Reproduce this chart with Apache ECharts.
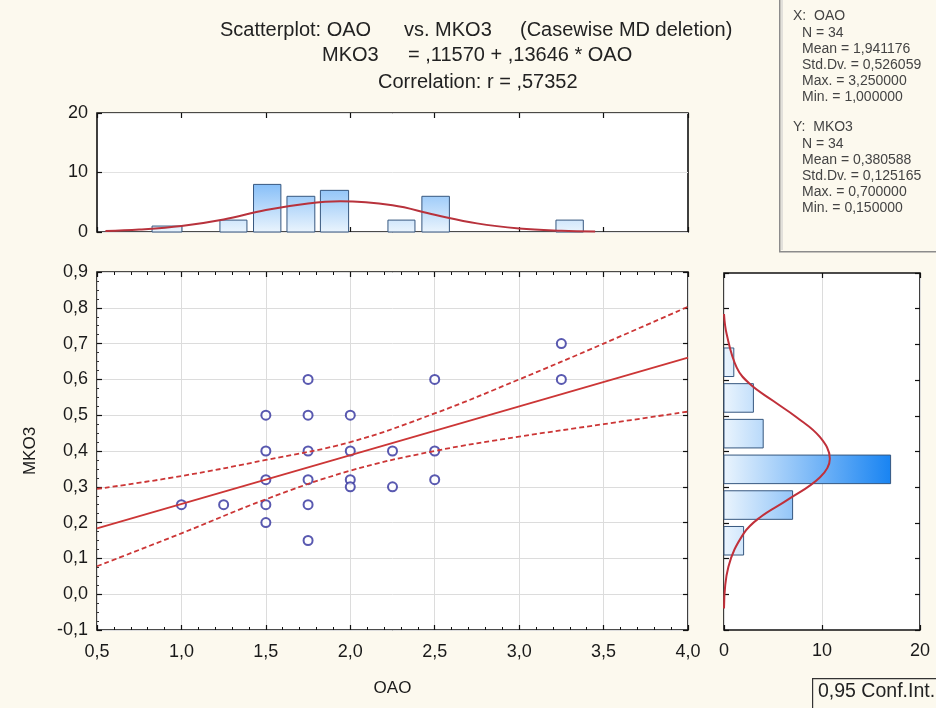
<!DOCTYPE html>
<html>
<head>
<meta charset="utf-8">
<script src="https://cdn.jsdelivr.net/npm/echarts@6/dist/echarts.min.js"></script>
<style>
  html, body { margin: 0; padding: 0; background: #fcf9ee; }
  #main { width: 936px; height: 708px; }
</style>
</head>
<body>
<div id="main"></div>
<script>
// scatter points (OAO, MKO3)
const points = [
  [1.0, 0.25], [1.25, 0.25],
  [1.5, 0.5], [1.5, 0.4], [1.5, 0.32], [1.5, 0.25], [1.5, 0.2],
  [1.75, 0.6], [1.75, 0.5], [1.75, 0.4], [1.75, 0.32], [1.75, 0.25], [1.75, 0.15],
  [2.0, 0.5], [2.0, 0.4], [2.0, 0.32], [2.0, 0.3],
  [2.25, 0.4], [2.25, 0.3],
  [2.5, 0.6], [2.5, 0.4], [2.5, 0.32],
  [3.25, 0.7], [3.25, 0.6]
];

// regression line ends
const fitLine = [[0.5, 0.184], [4.0, 0.661]];

// 0,95 confidence bands
const bandX = [0.5, 1.0, 1.5, 2.0, 2.5, 3.0, 3.5, 4.0];
const bandUpper = [0.294, 0.33, 0.375, 0.425, 0.505, 0.6, 0.70, 0.803];
const bandLower = [0.078, 0.17, 0.265, 0.345, 0.40, 0.44, 0.475, 0.51];

// top histogram (OAO): bin start, bin end, count
const oaoBinLo = [0.826, 1.228, 1.427, 1.625, 1.823, 2.223, 2.424, 3.218];
const oaoBinHi = [1.003, 1.388, 1.589, 1.790, 1.990, 2.383, 2.587, 3.380];
const oaoCount = [1, 2, 8, 6, 7, 2, 6, 2];
const oaoCurveX = [0.55, 0.75, 1.0, 1.25, 1.5, 1.75, 1.94, 2.25, 2.5, 2.75, 3.0, 3.25, 3.45];
const oaoCurveY = [0.15, 0.4, 1.0, 2.1, 3.7, 4.8, 5.15, 4.5, 2.9, 1.45, 0.6, 0.22, 0.1];

// right histogram (MKO3)
const mkoBinLo = [0.61, 0.51, 0.41, 0.31, 0.21, 0.11];
const mkoBinHi = [0.69, 0.59, 0.49, 0.39, 0.29, 0.19];
const mkoCount = [1, 3, 4, 17, 7, 2];
const mkoCurveY = [0.785, 0.729, 0.635, 0.589, 0.542, 0.496, 0.44, 0.38, 0.328, 0.263, 0.216, 0.17, 0.077, -0.04];
const mkoCurveX = [0, 0.27, 1.3, 2.65, 5.0, 7.4, 9.8, 10.8, 9.8, 6.4, 3.7, 2.0, 0.45, 0];

const statsX = ['N = 34', 'Mean = 1,941176', 'Std.Dv. = 0,526059', 'Max. = 3,250000', 'Min. = 1,000000'];
const statsY = ['N = 34', 'Mean = 0,380588', 'Std.Dv. = 0,125165', 'Max. = 0,700000', 'Min. = 0,150000'];

const FONT = 'Liberation Sans, Arial, sans-serif';
const RED = '#cc3636';
const barStops = [
  { offset: 0, color: '#eaf4fd' },
  { offset: 1, color: '#1984f2' }
];

let comma = (v, d) => v.toFixed(d).replace('.', ',').replace('-0,0', '0,0');

let chart = echarts.init(document.getElementById('main'));

let tickAxis = (extra) => Object.assign({
  type: 'value',
  axisLine: { show: false, onZero: false },
  axisTick: { show: true, inside: true, length: 5, lineStyle: { color: '#111', width: 1.2 } },
  axisLabel: { show: false },
  splitLine: { show: false }
}, extra);

let labelStyle = { color: '#1a1a1a', fontSize: 18, fontFamily: FONT };
let minor = { show: true, splitNumber: 5, length: 3, lineStyle: { color: '#111' } };

let renderTopBar = (params, api) => {
  let p0 = api.coord([api.value(0), api.value(2)]);
  let p1 = api.coord([api.value(1), 0]);
  let base = api.coord([1, 0])[1];
  let full = api.coord([1, 17])[1];
  return {
    type: 'rect',
    shape: { x: p0[0], y: p0[1], width: p1[0] - p0[0], height: p1[1] - p0[1] },
    style: {
      fill: new echarts.graphic.LinearGradient(0, base, 0, full, barStops, true),
      stroke: '#36577f', lineWidth: 1
    }
  };
};

let renderRightBar = (params, api) => {
  let p0 = api.coord([0, api.value(2)]);
  let p1 = api.coord([api.value(0), api.value(1)]);
  let base = api.coord([0, 0.3])[0];
  let full = api.coord([17, 0.3])[0];
  return {
    type: 'rect',
    shape: { x: p0[0], y: p0[1], width: p1[0] - p0[0], height: p1[1] - p0[1] },
    style: {
      fill: new echarts.graphic.LinearGradient(base, 0, full, 0, barStops, true),
      stroke: '#36577f', lineWidth: 1
    }
  };
};

let gridBox = { show: true, backgroundColor: '#fff', borderColor: '#111', borderWidth: 1.6 };
let titleFont = '20px ' + FONT;
let statFont = '14px ' + FONT;

let option = {
  backgroundColor: '#fcf9ee',
  animation: false,
  grid: [
    Object.assign({ left: 97, top: 113, width: 591, height: 119 }, gridBox),
    Object.assign({ left: 97, top: 272, width: 591, height: 358 }, gridBox),
    Object.assign({ left: 724, top: 273, width: 196, height: 357 }, gridBox)
  ],
  xAxis: [
    tickAxis({ gridIndex: 0, min: 0.5, max: 4.0, interval: 0.5, position: 'bottom' }),
    tickAxis({ gridIndex: 0, min: 0.5, max: 4.0, interval: 0.5, position: 'top' }),
    tickAxis({
      gridIndex: 1, min: 0.5, max: 4.0, interval: 0.5, position: 'bottom',
      axisLabel: Object.assign({ show: true, margin: 13, formatter: (v) => comma(v, 1) }, labelStyle),
      minorTick: minor,
      splitLine: { show: true, lineStyle: { color: '#dcdcdc', width: 1 } },
      name: 'OAO', nameLocation: 'middle', nameGap: 50,
      nameTextStyle: { color: '#1a1a1a', fontSize: 17, fontFamily: FONT }
    }),
    tickAxis({ gridIndex: 1, min: 0.5, max: 4.0, interval: 0.5, position: 'top', minorTick: minor }),
    tickAxis({
      gridIndex: 2, min: 0, max: 20, interval: 10, position: 'bottom',
      axisLabel: Object.assign({ show: true, margin: 12, showMaxLabel: true }, labelStyle),
      splitLine: { show: true, lineStyle: { color: '#dcdcdc', width: 1 } }
    }),
    tickAxis({ gridIndex: 2, min: 0, max: 20, interval: 10, position: 'top' })
  ],
  yAxis: [
    tickAxis({
      gridIndex: 0, min: 0, max: 20, interval: 10,
      axisLabel: Object.assign({ show: true, margin: 9 }, labelStyle),
      splitLine: { show: true, lineStyle: { color: '#e2e2e2', width: 1 } }
    }),
    tickAxis({
      gridIndex: 1, min: -0.1, max: 0.9, interval: 0.1,
      axisLabel: Object.assign({ show: true, margin: 9, formatter: (v) => comma(v, 1) }, labelStyle),
      minorTick: { show: true, splitNumber: 4, length: 2, lineStyle: { color: '#333' } },
      splitLine: { show: true, lineStyle: { color: '#dcdcdc', width: 1 } },
      name: 'MKO3', nameLocation: 'middle', nameGap: 58,
      nameTextStyle: { color: '#1a1a1a', fontSize: 17, fontFamily: FONT }
    }),
    tickAxis({ gridIndex: 1, min: -0.1, max: 0.9, interval: 0.1, position: 'right' }),
    tickAxis({ gridIndex: 2, min: -0.1, max: 0.9, interval: 0.1, position: 'left' }),
    tickAxis({ gridIndex: 2, min: -0.1, max: 0.9, interval: 0.1, position: 'right' })
  ],
  series: [
    {
      type: 'custom', xAxisIndex: 0, yAxisIndex: 0,
      renderItem: renderTopBar,
      encode: { x: [0, 1], y: 2 },
      data: oaoCount.map((c, i) => [oaoBinLo[i], oaoBinHi[i], c])
    },
    {
      type: 'line', xAxisIndex: 0, yAxisIndex: 0, smooth: 0.4, symbol: 'none',
      lineStyle: { color: '#b8323c', width: 2 },
      data: oaoCurveX.map((x, i) => [x, oaoCurveY[i]])
    },
    {
      type: 'custom', xAxisIndex: 4, yAxisIndex: 3,
      renderItem: renderRightBar,
      encode: { x: 0, y: [1, 2] },
      data: mkoCount.map((c, i) => [c, mkoBinLo[i], mkoBinHi[i]])
    },
    {
      type: 'line', xAxisIndex: 4, yAxisIndex: 3, smooth: 0.4, symbol: 'none',
      lineStyle: { color: '#c0303a', width: 2 },
      data: mkoCurveX.map((x, i) => [x, mkoCurveY[i]])
    },
    {
      type: 'scatter', xAxisIndex: 2, yAxisIndex: 1,
      symbol: 'emptyCircle', symbolSize: 9,
      itemStyle: { color: '#30309c', borderColor: '#30309c', borderWidth: 1.6 },
      data: points
    },
    {
      type: 'line', xAxisIndex: 2, yAxisIndex: 1, symbol: 'none',
      lineStyle: { color: RED, width: 1.8 },
      data: fitLine
    },
    {
      type: 'line', xAxisIndex: 2, yAxisIndex: 1, symbol: 'none', smooth: 0.4,
      lineStyle: { color: RED, width: 1.8, type: [5, 3] },
      data: bandX.map((x, i) => [x, bandUpper[i]])
    },
    {
      type: 'line', xAxisIndex: 2, yAxisIndex: 1, symbol: 'none', smooth: 0.4,
      lineStyle: { color: RED, width: 1.8, type: [5, 3] },
      data: bandX.map((x, i) => [x, bandLower[i]])
    }
  ],
  graphic: [
    { type: 'text', left: 220, top: 20, style: { text: 'Scatterplot: OAO', fill: '#222', font: titleFont } },
    { type: 'text', left: 404, top: 20, style: { text: 'vs. MKO3', fill: '#222', font: titleFont } },
    { type: 'text', left: 520, top: 20, style: { text: '(Casewise MD deletion)', fill: '#222', font: titleFont } },
    { type: 'text', left: 322, top: 45, style: { text: 'MKO3', fill: '#222', font: titleFont } },
    { type: 'text', left: 408, top: 45, style: { text: '= ,11570 + ,13646 * OAO', fill: '#222', font: titleFont } },
    { type: 'text', left: 378, top: 72, style: { text: 'Correlation: r = ,57352', fill: '#222', font: titleFont } },
    {
      type: 'rect', left: 779, top: -4,
      shape: { width: 170, height: 255 },
      style: { fill: '#fcf9ee', stroke: '#8c8c8c', lineWidth: 1.5 }
    },
    {
      type: 'line', shape: { x1: 782, y1: 0, x2: 782, y2: 250 },
      style: { stroke: '#c8c8c8', lineWidth: 1 }
    },
    { type: 'text', left: 793, top: 9, style: { text: 'X:  OAO', fill: '#444', font: statFont } },
    { type: 'text', left: 802, top: 25, style: { text: statsX.join('\n'), fill: '#444', font: statFont, lineHeight: 16.1 } },
    { type: 'text', left: 793, top: 120, style: { text: 'Y:  MKO3', fill: '#444', font: statFont } },
    { type: 'text', left: 802, top: 136, style: { text: statsY.join('\n'), fill: '#444', font: statFont, lineHeight: 16.1 } },
    {
      type: 'rect', left: 812, top: 678,
      shape: { width: 140, height: 40 },
      style: { fill: '#fcf9ee', stroke: '#333', lineWidth: 1.2 }
    },
    {
      type: 'text', left: 818, top: 682,
      style: { text: '0,95 Conf.Int.', fill: '#222', font: '19.5px ' + FONT }
    }
  ]
};

chart.setOption(option);
</script>
</body>
</html>
